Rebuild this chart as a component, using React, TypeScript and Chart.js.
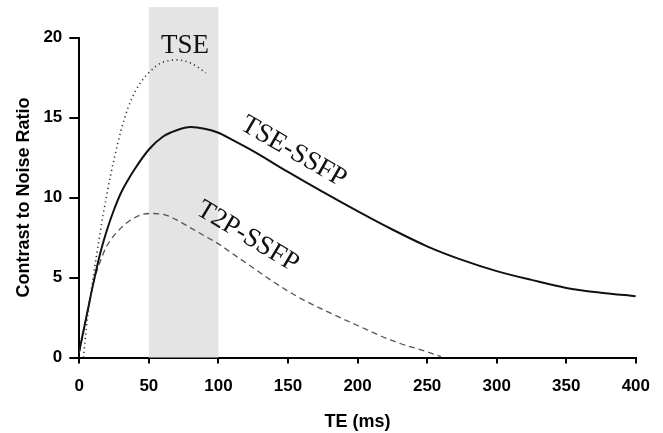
import { useEffect, useRef } from 'react';
import { Chart, registerables } from 'chart.js';

Chart.register(...registerables);

// TSE-SSFP (solid)
const TSE_SSFP_TE = [0, 5, 10, 15, 20, 25, 30, 35, 40, 50, 60, 70, 80, 90, 100, 110, 125, 150, 175, 200, 225, 250, 275, 300, 325, 350, 375, 400];
const TSE_SSFP_CNR = [0.4, 2.5, 4.6, 6.5, 8.0, 9.25, 10.3, 11.1, 11.8, 13.0, 13.8, 14.2, 14.4, 14.3, 14.05, 13.6, 12.9, 11.6, 10.35, 9.15, 8.0, 6.95, 6.1, 5.4, 4.85, 4.35, 4.05, 3.83];

// T2P-SSFP (dashed)
const T2P_SSFP_TE = [0, 5, 10, 15, 20, 30, 40, 50, 60, 70, 80, 90, 100, 110, 120, 130, 140, 150, 160, 175, 200, 225, 250, 260];
const T2P_SSFP_CNR = [0.3, 2.5, 4.6, 6.0, 7.0, 8.1, 8.75, 9.0, 8.95, 8.6, 8.1, 7.6, 7.1, 6.5, 5.9, 5.3, 4.7, 4.15, 3.65, 3.0, 2.0, 1.05, 0.35, 0.05];

// TSE (dotted)
const TSE_TE = [3, 5, 10, 15, 20, 25, 30, 35, 40, 45, 50, 55, 60, 70, 80, 91];
const TSE_CNR = [0, 1.8, 5.0, 7.8, 10.3, 12.4, 14.2, 15.6, 16.6, 17.3, 17.8, 18.2, 18.45, 18.6, 18.4, 17.8];

const X_TICKS = [0, 50, 100, 150, 200, 250, 300, 350, 400];
const Y_TICKS = [0, 5, 10, 15, 20];

// shaded TE window
const SHADE_FROM = 50;
const SHADE_TO = 100;
const SHADE_TOP = 21.9;

// curve labels, placed in data coordinates
const LABEL_TEXT = ['TSE', 'TSE-SSFP', 'T2P-SSFP'];
const LABEL_TE = [76, 154, 121];
const LABEL_CNR = [19.5, 12.85, 7.55];
const LABEL_ANGLE = [0, 30, 31];

const toPoints = (xs: number[], ys: number[]) => xs.map((x, i) => ({ x, y: ys[i] }));

const shadePlugin = {
  id: 'shade',
  beforeDatasetsDraw(chart: any) {
    const { ctx, scales } = chart;
    const x0 = scales.x.getPixelForValue(SHADE_FROM);
    const x1 = scales.x.getPixelForValue(SHADE_TO);
    const y0 = scales.y.getPixelForValue(SHADE_TOP);
    const y1 = scales.y.getPixelForValue(0);
    ctx.save();
    ctx.fillStyle = '#e4e4e4';
    ctx.fillRect(x0, y0, x1 - x0, y1 - y0);
    ctx.restore();
  },
};

const labelPlugin = {
  id: 'curveLabels',
  afterDatasetsDraw(chart: any) {
    const { ctx, scales } = chart;
    ctx.save();
    ctx.font = '27px "Liberation Serif", "Times New Roman", serif';
    ctx.fillStyle = '#111';
    ctx.textAlign = 'center';
    ctx.textBaseline = 'middle';
    LABEL_TEXT.forEach((t, i) => {
      const px = scales.x.getPixelForValue(LABEL_TE[i]);
      const py = scales.y.getPixelForValue(LABEL_CNR[i]);
      ctx.save();
      ctx.translate(px, py);
      ctx.rotate((LABEL_ANGLE[i] * Math.PI) / 180);
      ctx.fillText(t, 0, 0);
      ctx.restore();
    });
    ctx.restore();
  },
};

export default function App() {
  const canvasRef = useRef<HTMLCanvasElement>(null);

  useEffect(() => {
    document.body.style.margin = '0';
    if (!canvasRef.current) return;

    const tickFont = { family: '"Liberation Sans", Arial, sans-serif', size: 17, weight: 'bold' as const };
    const titleFont = { family: '"Liberation Sans", Arial, sans-serif', size: 18, weight: 'bold' as const };

    const chart = new Chart(canvasRef.current, {
      type: 'line',
      data: {
        datasets: [
          {
            label: 'TSE',
            data: toPoints(TSE_TE, TSE_CNR),
            borderColor: '#333',
            borderWidth: 1.6,
            borderDash: [1.2, 3.4],
            pointRadius: 0,
            cubicInterpolationMode: 'monotone',
          },
          {
            label: 'TSE-SSFP',
            data: toPoints(TSE_SSFP_TE, TSE_SSFP_CNR),
            borderColor: '#111',
            borderWidth: 2,
            pointRadius: 0,
            cubicInterpolationMode: 'monotone',
          },
          {
            label: 'T2P-SSFP',
            data: toPoints(T2P_SSFP_TE, T2P_SSFP_CNR),
            borderColor: '#555',
            borderWidth: 1.3,
            borderDash: [6, 4],
            pointRadius: 0,
            cubicInterpolationMode: 'monotone',
          },
        ],
      },
      options: {
        responsive: false,
        animation: false,
        layout: { padding: { top: 37.5, right: 26.3, left: 0, bottom: 0 } },
        plugins: {
          legend: { display: false },
          tooltip: { enabled: false },
        },
        scales: {
          x: {
            type: 'linear',
            min: 0,
            max: 400,
            afterFit: (s: any) => { s.height = 75.5; },
            afterBuildTicks: (s: any) => { s.ticks = X_TICKS.map((v) => ({ value: v })); },
            ticks: { color: '#000', font: tickFont, padding: 13, maxRotation: 0 },
            grid: { drawOnChartArea: false, color: '#000', lineWidth: 2, tickLength: 6 },
            border: { display: true, color: '#000', width: 2 },
            title: { display: true, text: 'TE (ms)', color: '#000', font: titleFont, padding: { top: 0, bottom: 0 } },
          },
          y: {
            type: 'linear',
            min: 0,
            max: 20,
            afterFit: (s: any) => { s.width = 79.3; },
            afterBuildTicks: (s: any) => { s.ticks = Y_TICKS.map((v) => ({ value: v })); },
            ticks: { color: '#000', font: tickFont, padding: 7 },
            grid: { drawOnChartArea: false, color: '#000', lineWidth: 2, tickLength: 10 },
            border: { display: true, color: '#000', width: 2 },
            title: { display: true, text: 'Contrast to Noise Ratio', color: '#000', font: titleFont, padding: { top: 13, bottom: 0 } },
          },
        },
      },
      plugins: [shadePlugin, labelPlugin],
    });

    return () => chart.destroy();
  }, []);

  return (
    <div style={{ width: 663, height: 433, background: '#fff' }}>
      <canvas ref={canvasRef} width={663} height={433} />
    </div>
  );
}
